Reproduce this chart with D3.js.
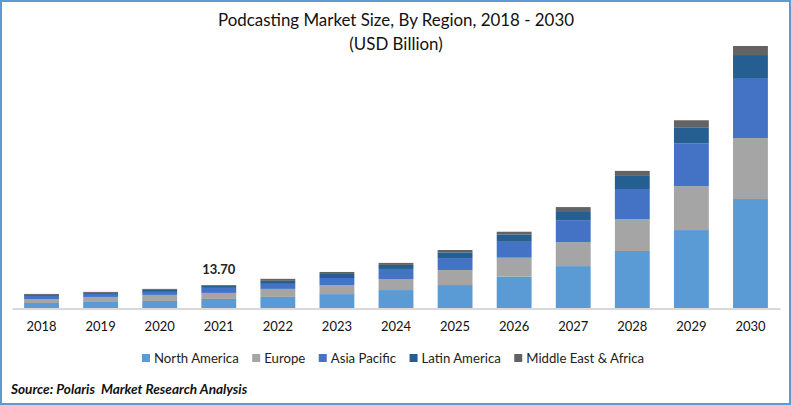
<!DOCTYPE html>
<html lang="en">
<head>
<meta charset="UTF-8">
<title>Podcasting Market Size</title>
<script src="https://d3js.org/d3.v7.min.js"></script>
<style>
    html, body { margin: 0; padding: 0; background: #fff; }
    svg { display: block; font-family: Lato, "Open Sans", sans-serif; }
</style>
</head>
<body>
<svg id="chart" width="791" height="405"></svg>
<script>
const years = ["2018","2019","2020","2021","2022","2023","2024","2025","2026","2027","2028","2029","2030"];
const regions = ["North America","Europe","Asia Pacific","Latin America","Middle East & Africa"];
const colors = ["#5b9bd5","#a5a5a5","#4472c4","#255e91","#636363"];

// USD billion
const northAmerica = [3.0,3.6,4.2,5.4,6.6,8.3,10.7,13.7,18.7,25.0,34.0,46.5,65.0];
const europe       = [2.2,3.0,3.6,3.6,4.8,5.4,6.6,8.9,11.3,14.3,19.1,26.2,36.4];
const asiaPacific  = [2.0,1.8,1.8,3.0,3.0,4.2,6.0,7.2,9.5,13.1,17.9,25.6,35.8];
const latinAmerica = [0.6,0.6,1.2,1.2,1.8,2.4,2.4,3.4,4.4,5.4,7.8,9.5,13.7];
const middleEast   = [0.6,0.6,0.6,0.5,1.2,1.2,1.2,1.4,1.6,2.4,3.0,4.2,5.4];
const labelYear = "2021";
const labelText = "13.70";

const seriesValues = [northAmerica, europe, asiaPacific, latinAmerica, middleEast];
const rows = years.map((year, i) => {
    const row = {year: year};
    regions.forEach((r, j) => { row[r] = seriesValues[j][i]; });
    return row;
});

const svg = d3.select("#chart");
const width = 791, height = 405;

const x = d3.scaleBand().domain(years).range([12, 780]).paddingInner(0.41).paddingOuter(0.205);
const y = d3.scaleLinear().domain([0, 156.3]).range([308, 46]);
const stack = d3.stack().keys(regions)(rows);

svg.append("g")
    .selectAll("g")
    .data(stack)
    .join("g")
    .attr("fill", (d, i) => colors[i])
    .selectAll("rect")
    .data(d => d)
    .join("rect")
    .attr("x", d => x(d.data.year))
    .attr("width", x.bandwidth())
    .attr("y", d => y(d[1]))
    .attr("height", d => y(d[0]) - y(d[1]));

const axis = svg.append("g")
    .attr("transform", "translate(0,308.5)")
    .call(d3.axisBottom(x).tickSize(0).tickPadding(13));
axis.select(".domain").attr("stroke", "#d9d9d9").attr("stroke-width", 2);
axis.selectAll("text")
    .attr("font-family", "Lato, sans-serif")
    .attr("font-size", 13)
    .attr("fill", "#111");

// value label above the 2021 bar
const labelRow = rows.find(d => d.year === labelYear);
svg.append("text")
    .attr("x", x(labelYear) + x.bandwidth() / 2)
    .attr("y", y(d3.sum(regions, r => labelRow[r])) - 11)
    .attr("text-anchor", "middle")
    .attr("font-size", 13)
    .attr("font-weight", 700)
    .attr("fill", "#222")
    .text(labelText);

// title
svg.append("text")
    .attr("x", 396).attr("y", 26)
    .attr("text-anchor", "middle")
    .attr("font-size", 16.9)
    .attr("fill", "#111")
    .text("Podcasting Market Size, By Region, 2018 - 2030");
svg.append("text")
    .attr("x", 396).attr("y", 50)
    .attr("text-anchor", "middle")
    .attr("font-size", 16.9)
    .attr("fill", "#111")
    .text("(USD Billion)");

// legend, laid out left to right from the measured text widths
let legendX = 142;
regions.forEach((r, i) => {
    svg.append("rect")
        .attr("x", legendX).attr("y", 354)
        .attr("width", 8).attr("height", 8)
        .attr("fill", colors[i]);
    const t = svg.append("text")
        .attr("x", legendX + 12).attr("y", 363)
        .attr("font-size", 13.2)
        .attr("fill", "#222")
        .text(r);
    legendX += 12 + t.node().getComputedTextLength() + 13.5;
});

// source
svg.append("text")
    .attr("x", 11).attr("y", 394)
    .attr("font-size", 13.6)
    .attr("font-weight", 700)
    .attr("font-style", "italic")
    .attr("fill", "#111")
    .attr("xml:space", "preserve")
    .text("Source: Polaris  Market Research Analysis");

// outer border
svg.append("rect")
    .attr("x", 1).attr("y", 1)
    .attr("width", width - 2).attr("height", height - 2)
    .attr("fill", "none")
    .attr("stroke", "#5b9bd5")
    .attr("stroke-width", 2);
</script>
</body>
</html>
